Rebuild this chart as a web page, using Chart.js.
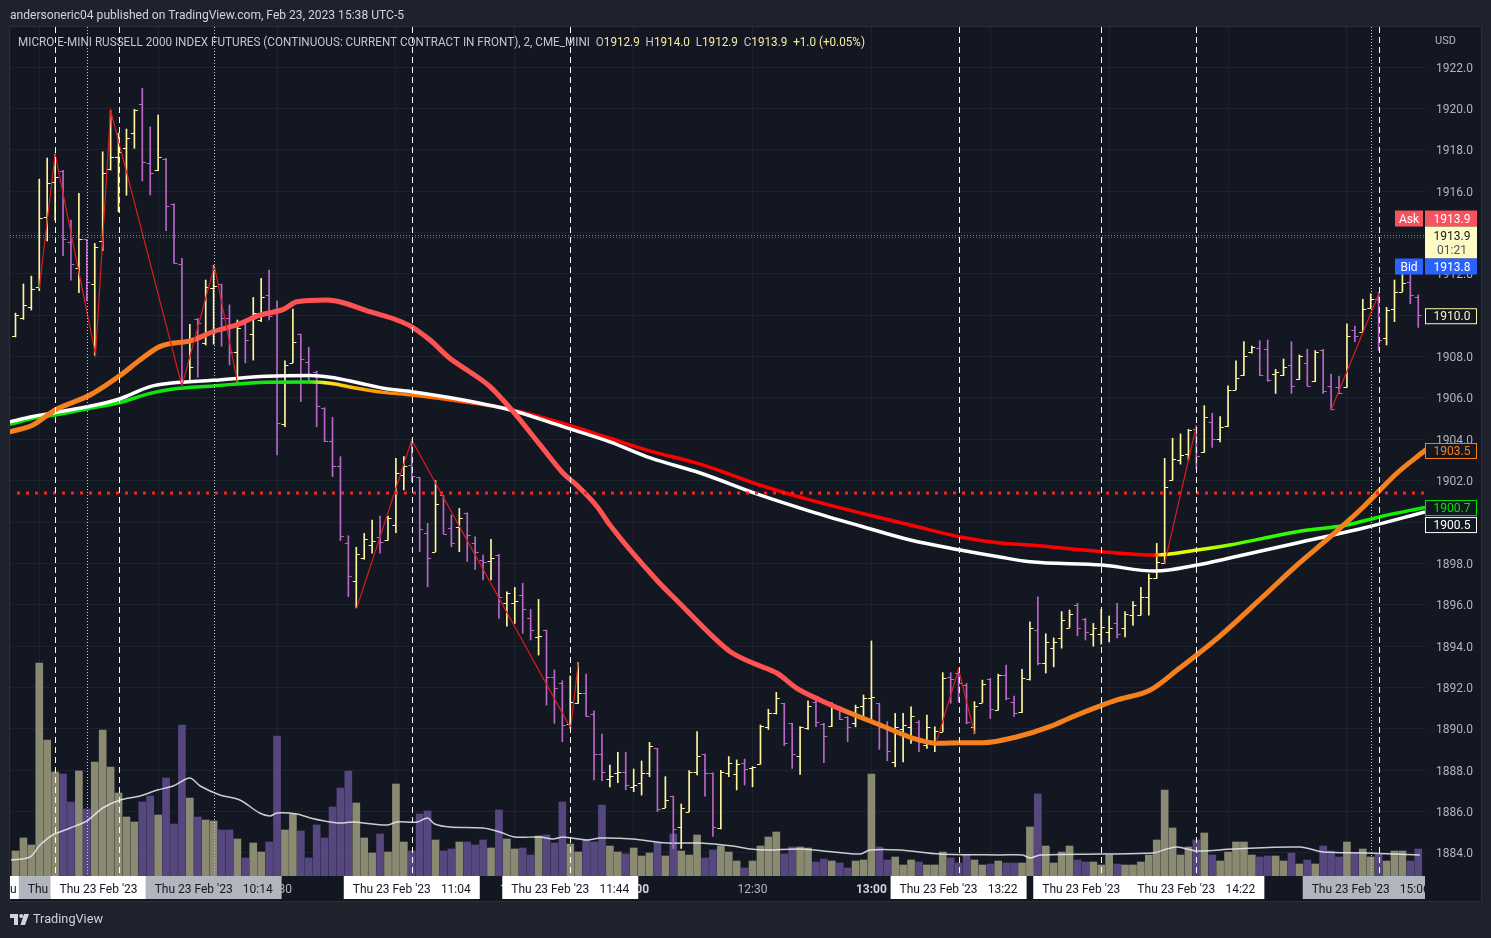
<!DOCTYPE html>
<html>
<head>
<meta charset="utf-8">
<title>MICRO E-MINI RUSSELL 2000 - 2m</title>
<script src="https://cdn.jsdelivr.net/npm/chart.js@4.4.1/dist/chart.umd.min.js"></script>
<style>
html,body{margin:0;padding:0;background:#1e222d;overflow:hidden;}
canvas{display:block;}
</style>
</head>
<body>
<canvas id="chart" width="1491" height="938"></canvas>
<script>
// ---------------- DATA ----------------
// bar index i -> 2-minute bars, i = 93 is 12:30
const opens = [
1909.0,1909.86,1910.38,1911.35,1914.76,1916.46,1916.98,1913.55,1912.27,1913.67,
1911.51,1913.59,1917.05,1917.67,1918.07,1918.79,1920.2,1917.34,1917.02,1917.55,
1915.38,1912.5,1906.8,1909.8,1908.64,1911.3,1911.5,1909.85,1908.2,1909.56,
1909.1,1909.77,1910.97,1910.28,1904.72,1907.7,1909.09,1907.75,1907.27,1905.5,
1903.9,1902.7,1898.97,1897.17,1898.25,1898.9,1899.3,1899.13,1899.86,1902.27,
1902.76,1902.16,1899.45,1898.57,1901.3,1899.7,1899.78,1900.42,1898.97,1898.17,
1898.1,1898.4,1896.1,1896.1,1896.47,1895.34,1894.46,1894.78,1892.49,1892.2,
1890.26,1891.27,1891.75,1890.7,1888.78,1887.6,1887.85,1887.9,1887.2,1887.4,
1887.85,1889.06,1886.19,1886.75,1885.24,1886.0,1887.93,1888.78,1887.88,1885.2,
1887.88,1887.8,1888.33,1888.09,1888.3,1890.07,1890.75,1891.24,1890.27,1888.69,
1890.03,1891.28,1890.24,1890.16,1891.0,1890.56,1890.27,1891.1,1891.47,1891.24,
1890.19,1888.4,1890.0,1890.11,1890.35,1889.2,1889.3,1889.87,1892.5,1892.7,
1892.12,1890.1,1891.27,1892.41,1890.91,1892.6,1891.3,1890.8,1892.4,1894.78,
1893.2,1893.9,1894.4,1894.9,1896.0,1895.3,1894.6,1894.6,1894.7,1895.1,
1894.86,1895.5,1895.5,1896.4,1897.28,1898.0,1902.03,1903.0,1903.3,1904.5,
1903.37,1904.85,1904.0,1904.64,1906.4,1907.1,1908.2,1908.4,1908.35,1907.16,
1907.1,1907.6,1906.9,1907.67,1906.84,1908.3,1906.58,1906.55,1906.55,1909.3,
1909.2,1910.33,1910.8,1908.9,1910.3,1911.14,1911.6,1910.9];
const highs = [
1910.1,1911.51,1911.89,1916.58,1917.6,1917.79,1917.0,1914.6,1915.89,1913.67,
1913.47,1917.9,1919.89,1918.8,1919.0,1919.95,1920.97,1919.11,1919.68,1917.58,
1915.38,1912.75,1909.56,1909.85,1911.7,1912.4,1911.5,1910.5,1909.77,1909.6,
1910.86,1911.78,1912.18,1910.69,1907.79,1910.3,1909.09,1908.45,1907.3,1905.53,
1905.06,1903.16,1899.34,1898.78,1899.45,1900.1,1900.29,1900.29,1903.08,1903.16,
1903.97,1902.16,1899.94,1902.0,1901.3,1900.34,1900.66,1900.45,1899.29,1898.4,
1899.16,1898.44,1896.63,1896.84,1897.04,1895.78,1896.26,1894.78,1892.85,1892.33,
1892.56,1893.2,1892.65,1890.87,1889.75,1888.25,1888.87,1888.87,1888.06,1888.45,
1889.35,1889.06,1887.69,1886.75,1886.37,1887.98,1889.87,1888.78,1887.88,1888.0,
1888.66,1888.5,1888.54,1888.17,1890.19,1890.95,1891.77,1891.24,1890.27,1890.11,
1891.36,1891.47,1890.27,1891.27,1891.07,1890.59,1891.15,1891.64,1894.25,1891.24,
1890.35,1890.75,1890.75,1891.07,1890.4,1890.67,1890.1,1892.72,1892.72,1892.88,
1892.2,1891.32,1892.36,1892.44,1892.65,1893.09,1891.59,1892.88,1895.18,1896.39,
1894.6,1894.4,1895.67,1895.75,1896.07,1895.34,1895.1,1895.78,1895.46,1896.07,
1895.67,1896.15,1896.84,1897.49,1898.97,1903.08,1904.05,1904.26,1904.48,1904.66,
1905.63,1905.26,1905.1,1906.58,1907.8,1908.72,1908.51,1908.77,1908.8,1907.38,
1907.88,1908.72,1908.08,1908.35,1908.29,1908.35,1907.16,1907.06,1909.58,1909.48,
1910.77,1911.03,1911.1,1910.38,1911.7,1912.34,1912.0,1910.98];
const lows = [
1908.95,1909.8,1910.25,1911.19,1913.59,1914.6,1912.88,1911.7,1911.09,1910.7,
1908.07,1913.12,1917.02,1915.0,1915.8,1918.07,1916.49,1915.81,1916.99,1914.09,
1912.5,1906.6,1906.8,1907.0,1908.56,1908.6,1908.5,1907.6,1906.75,1907.7,
1907.83,1909.69,1909.77,1903.24,1904.61,1907.7,1905.82,1906.78,1904.61,1903.89,
1902.19,1899.1,1896.39,1895.85,1898.2,1898.5,1898.5,1899.13,1899.49,1901.55,
1901.95,1898.57,1896.87,1898.57,1899.42,1898.8,1898.57,1898.1,1897.71,1897.2,
1897.2,1895.34,1894.97,1895.1,1894.62,1894.3,1893.57,1891.15,1890.27,1889.38,
1890.03,1891.23,1890.6,1887.53,1887.5,1887.2,1887.4,1887.05,1886.96,1886.8,
1887.69,1886.0,1886.19,1884.22,1884.22,1886.0,1887.77,1886.75,1884.8,1885.16,
1887.69,1887.05,1887.29,1887.2,1888.3,1889.97,1890.72,1889.19,1888.09,1887.8,
1889.97,1890.11,1888.37,1890.11,1890.46,1889.38,1890.1,1890.43,1890.3,1889.01,
1888.46,1888.17,1888.4,1889.3,1888.9,1889.06,1888.9,1889.87,1891.24,1891.3,
1890.24,1889.78,1891.27,1890.5,1890.91,1891.4,1890.6,1890.78,1892.36,1893.09,
1892.7,1893.0,1893.9,1894.9,1894.5,1894.3,1894.0,1894.1,1894.2,1894.4,
1894.45,1895.0,1895.5,1895.5,1897.28,1898.0,1902.03,1902.8,1903.0,1902.6,
1903.37,1903.61,1903.88,1904.61,1906.4,1907.08,1908.16,1907.08,1906.8,1906.22,
1907.08,1906.22,1906.9,1906.58,1906.79,1906.22,1905.42,1906.2,1906.51,1908.72,
1909.2,1910.33,1908.3,1908.56,1909.69,1911.14,1910.55,1909.41];
const closes = [
1910.0,1910.48,1911.25,1914.71,1916.38,1916.7,1913.67,1912.48,1913.67,1911.6,
1913.3,1916.86,1917.67,1917.9,1918.58,1919.9,1917.39,1916.86,1917.67,1915.28,
1912.51,1906.8,1907.5,1909.6,1911.35,1911.4,1909.85,1908.24,1909.4,1908.8,
1910.09,1910.9,1909.96,1904.8,1907.58,1908.72,1907.87,1906.8,1905.63,1903.9,
1902.73,1899.34,1897.39,1898.44,1899.18,1899.1,1899.05,1900.18,1902.35,1902.71,
1902.23,1899.65,1898.24,1900.86,1899.42,1899.0,1900.18,1899.37,1898.57,1898.08,
1898.28,1896.36,1896.55,1896.2,1895.78,1894.78,1894.5,1892.52,1892.0,1890.19,
1891.32,1891.75,1890.62,1888.8,1887.93,1887.7,1887.9,1887.3,1887.3,1887.85,
1889.19,1886.13,1886.56,1885.16,1886.16,1887.93,1888.69,1887.85,1885.24,1887.93,
1888.37,1888.3,1888.04,1888.14,1890.14,1890.75,1891.47,1889.3,1888.78,1890.11,
1891.11,1890.35,1889.66,1891.04,1890.5,1890.1,1891.07,1891.47,1891.56,1890.11,
1888.95,1890.1,1890.2,1890.64,1889.35,1890.1,1889.9,1892.45,1892.4,1892.2,
1890.35,1891.1,1892.15,1890.96,1892.6,1891.48,1890.78,1892.44,1894.86,1893.17,
1894.2,1894.2,1895.26,1895.55,1894.86,1894.7,1894.9,1894.94,1894.86,1894.6,
1895.55,1896.0,1896.36,1897.28,1898.08,1901.68,1903.05,1903.24,1904.43,1903.2,
1905.1,1904.0,1904.58,1906.38,1906.95,1908.04,1908.45,1907.1,1906.85,1907.27,
1907.5,1906.58,1908.04,1906.58,1908.24,1906.35,1905.45,1906.22,1909.0,1909.0,
1910.28,1910.77,1908.8,1910.25,1911.14,1911.54,1911.0,1910.0];
const volumes = [
125,190,155,1065,680,520,510,370,525,335,
570,730,545,415,295,270,370,400,305,490,
260,755,390,295,280,275,230,230,185,90,
165,120,170,700,230,310,225,90,255,190,
345,440,525,365,190,115,210,120,460,170,
125,310,325,180,125,135,170,170,155,180,
140,330,185,135,140,105,200,205,165,370,
160,120,180,170,355,150,120,110,140,100,
115,170,100,210,125,105,205,90,130,150,
120,75,40,75,150,195,220,110,145,145,
140,70,85,75,65,40,75,80,510,145,
80,95,55,80,70,55,55,120,90,65,
105,80,55,60,75,65,65,65,245,410,
150,65,120,150,80,70,70,55,105,60,
55,55,70,105,180,430,240,105,145,180,
215,105,75,120,170,170,105,95,100,100,
75,115,60,80,60,150,125,95,170,115,
135,95,110,75,125,125,75,135];

// moving averages read at sampled bar positions
const whiteIdx = [-0.7,2.2,5,9.4,13.1,17,19.7,24.9,31.7,37.2,39.7,43.1,46.4,50,56.5,62.8,69.1,75,80.1,86.4,93.9,100.2,106.6,112.9,119.2,124.2,128,137.1,143.8,149.1,153.2,161.7,170.1,177.85];
const whiteVal = [1904.85,1905.1,1905.3,1905.6,1905.95,1906.55,1906.72,1906.85,1907.05,1907.08,1907.0,1906.75,1906.47,1906.3,1905.9,1905.38,1904.61,1903.88,1903.1,1902.37,1901.31,1900.53,1899.81,1899.13,1898.65,1898.31,1898.08,1897.92,1897.63,1897.92,1898.26,1898.99,1899.71,1900.49];
const trendIdx = [-0.7,2.2,5,9.4,13.1,17,19.7,24.9,31.7,37.2,39.7,43.1,46.4,50,56.5,62.8,69.1,75,80.1,86.4,93.9,100.2,106.6,112.9,119.2,124.2,128,137.1,143.8,149.1,153.2,157.4,161.7,168,172.2,177.85];
const trendVal = [1904.72,1905.02,1905.18,1905.5,1905.77,1906.22,1906.42,1906.58,1906.76,1906.77,1906.71,1906.47,1906.27,1906.14,1905.82,1905.42,1904.77,1904.05,1903.43,1902.8,1901.79,1901.07,1900.44,1899.86,1899.28,1898.99,1898.89,1898.57,1898.41,1898.65,1898.89,1899.21,1899.53,1899.86,1900.26,1900.71];
const fastIdx = [-0.6,2.2,5,9.4,13.1,15.7,18.2,22.4,24.9,27.9,30.8,33.8,35.5,39.3,40.9,44.7,48.1,50,52.3,54.8,57.3,59.9,62.8,66.2,69.1,70.8,73.4,75,80.9,83.8,88,90.2,93.1,96.1,98.6,101.5,104.9,109.1,113.3,116.3,119.2,122.1,126.4,130.5,133.4,136.8,139,143.2,146.9,151.4,157.4,161.7,165.9,170.1,174.3,177.85];
const fastVal = [1904.37,1904.69,1905.42,1906.14,1907.06,1907.83,1908.48,1908.8,1909.2,1909.53,1910.0,1910.28,1910.65,1910.74,1910.65,1910.17,1909.77,1909.44,1908.8,1907.92,1907.27,1906.54,1905.34,1903.73,1902.36,1901.79,1900.74,1899.86,1897.2,1896.07,1894.46,1893.73,1893.17,1892.69,1891.96,1891.4,1890.83,1890.19,1889.54,1889.3,1889.33,1889.33,1889.62,1890.11,1890.59,1891.1,1891.4,1891.88,1892.94,1894.3,1896.39,1897.92,1899.29,1900.74,1902.36,1903.46];
const volMaIdx = [-0.57,1.83,3.1,4.7,6.9,9.0,11.0,13.2,15.7,17.9,19.9,22.0,23.3,25.8,28.3,30.8,32.1,33.0,35.5,37.2,39.0,40.9,42.6,45.1,47.0,48.1,50.7,52.0,52.9,54.8,59.0,61.1,63.0,66.2,67.8,69.1,72.1,73.8,77.9,82.2,86.4,90.5,92.7,94.8,99.0,103.2,106.6,107.8,111.6,116.6,124.2,127.1,128.0,129.3,136.8,143.5,145.3,146.6,149.1,153.6,162.1,165.0,170.5,177.2];
const volMaVal = [80,95,155,205,240,275,340,380,400,430,450,490,450,405,380,315,300,315,310,290,275,265,270,260,255,270,270,290,260,245,240,220,195,195,185,195,180,190,185,165,165,150,135,130,135,120,110,130,130,110,105,105,90,105,110,115,135,145,125,135,145,120,115,105];

// zigzag pivots (null = break)
const zzIdx = [3,5,10.1,12,21,25.1,28,null,43.05,50,70.05,71,null,116.2,119,121,null,145,149,null,166,172.05];
const zzVal = [1911.3,1917.79,1908.08,1919.89,1906.58,1912.39,1906.77,null,1895.84,1903.97,1890.04,1893.18,null,1889.37,1892.88,1889.79,null,1898.0,1904.66,null,1905.42,1911.06];

// levels and marks
const askPrice = 1913.9, bidPrice = 1913.8, levelPrice = 1901.4;
const priceTicks = [1884,1886,1888,1890,1892,1894,1896,1898,1900,1902,1904,1906,1908,1910,1912,1914,1916,1918,1920,1922];
const gridIdx = [3,18,33,48,63,78,93,108,123,138,153,168];
const timeTickText = ['09:30','10:00','10:30','11:00','11:30','12:00','12:30','13:00','13:30','14:00','14:30','15:00'];
const dashIdx = [5,13,50,70,119,137,149,172];
const dotIdx = [9,25,171];
const markIdx = [5,9,13,25,50,70,119,137,149,172,171];
const markTime = ['09:34','09:42','09:50','10:14','11:04','11:44','13:22','13:58','14:22','15:08','15:06'];
const markDate = "Thu 23 Feb '23";
const legendName = 'MICRO E-MINI RUSSELL 2000 INDEX FUTURES (CONTINUOUS: CURRENT CONTRACT IN FRONT), 2, CME_MINI';
const legendOHLC = ['1912.9','1914.0','1912.9','1913.9','+1.0 (+0.05%)'];
const countdown = '01:21';

// ---------------- STYLE ----------------
const FONT = 'Roboto, "Liberation Sans", "DejaVu Sans", sans-serif';
const BG_OUT = '#1e222d', BG_PANE = '#131722', GRID = '#1e222e', AXIS_TXT = '#b2b5be';
const UP = '#fff59d', DOWN = '#ba68c8', VOL_UP = '#8a8972', VOL_DOWN = '#56487f';
const AXIS_W = 56, TIME_H = 25;
const X_MIN = -0.694, X_MAX = 177.85, Y_MIN = 1882.888, Y_MAX = 1923.934, VOL_MAX = 4245;
const fastStops = [[-1,'#f5801e'],[20,'#f5801e'],[25,'#ff5252'],[103.5,'#ff5252'],[105.5,'#f5801e'],[178,'#f5801e']];
const trendStops = [[-1,'#00e600'],[37,'#19e619'],[39,'#ffee22'],[43,'#ffb000'],[47,'#ff8c00'],[56,'#ff5a00'],[62,'#ff0000'],[143.6,'#ff0000'],[144.6,'#f8f800'],[150,'#d8ff00'],[156,'#3cff00'],[178,'#00f000']];

const N = opens.length;
const isUp = i => closes[i] >= opens[i];
const pts = (xa, ya) => xa.map((x, k) => ({x, y: ya[k]}));
const zzData = [];
zzIdx.forEach((x, k) => {
  if (x === null) zzData.push({x: zzIdx[k - 1] + 0.5, y: null});
  else zzData.push({x, y: zzVal[k]});
});

function gradFor(chart, stops) {
  const a = chart.chartArea;
  if (!a) return stops[0][1];
  const g = chart.ctx.createLinearGradient(a.left, 0, a.right, 0);
  const xs = chart.scales.x;
  stops.forEach(([v, col]) => {
    let f = (xs.getPixelForValue(v) - a.left) / (a.right - a.left);
    g.addColorStop(Math.min(1, Math.max(0, f)), col);
  });
  return g;
}

function fitParts(c, parts, x, y, width, font) {
  c.save();
  c.font = font; c.textBaseline = 'middle'; c.textAlign = 'left';
  const total = parts.reduce((s, p) => s + c.measureText(p[0]).width, 0);
  c.translate(x, y); c.scale(width / total, 1);
  let cx = 0;
  parts.forEach(([t, col]) => { c.fillStyle = col; c.fillText(t, cx, 0); cx += c.measureText(t).width; });
  c.restore();
}

function valueBox(c, x, yc, text, fill, border, color) {
  c.fillStyle = fill; c.fillRect(x, yc - 8, 52, 16);
  if (border) { c.strokeStyle = border; c.lineWidth = 1; c.strokeRect(x + 0.5, yc - 7.5, 51, 15); }
  c.fillStyle = color; c.font = '12px ' + FONT; c.textAlign = 'center'; c.textBaseline = 'middle';
  c.fillText(text, x + 27, yc + 1);
}

const tvPlugin = {
  id: 'tv',
  beforeDraw(chart) {
    const c = chart.ctx, a = chart.chartArea;
    c.save();
    c.fillStyle = BG_OUT; c.fillRect(0, 0, chart.width, chart.height);
    c.fillStyle = BG_PANE; c.fillRect(a.left, a.top, a.right - a.left + AXIS_W, a.bottom - a.top + TIME_H);
    c.restore();
  },
  afterDatasetDraw(chart, args) {
    if (chart.data.datasets[args.index].label !== 'hl') return;
    const c = chart.ctx, a = chart.chartArea, xs = chart.scales.x, ys = chart.scales.y;
    c.save();
    c.beginPath(); c.rect(a.left, a.top, a.right - a.left, a.bottom - a.top); c.clip();
    c.lineWidth = 1;
    for (let i = 0; i < N; i++) {
      const x = xs.getPixelForValue(i);
      const yo = Math.round(ys.getPixelForValue(opens[i])) + 0.5;
      const yc = Math.round(ys.getPixelForValue(closes[i])) + 0.5;
      c.strokeStyle = isUp(i) ? UP : DOWN;
      c.beginPath();
      c.moveTo(x - 3.5, yo); c.lineTo(x, yo);
      c.moveTo(x, yc); c.lineTo(x + 3.5, yc);
      c.stroke();
    }
    c.restore();
  },
  afterDatasetsDraw(chart) {
    const c = chart.ctx, a = chart.chartArea, xs = chart.scales.x, ys = chart.scales.y;
    c.save();
    c.beginPath(); c.rect(a.left, a.top, a.right - a.left, a.bottom - a.top); c.clip();
    // ask / bid lines
    c.lineWidth = 1; c.setLineDash([1, 2]);
    let y = Math.round(ys.getPixelForValue(askPrice)) + 0.5;
    c.strokeStyle = '#f7525f'; c.beginPath(); c.moveTo(a.left, y); c.lineTo(a.right, y); c.stroke();
    y = Math.round(ys.getPixelForValue(bidPrice)) + 0.5;
    c.strokeStyle = '#2962ff'; c.beginPath(); c.moveTo(a.left, y); c.lineTo(a.right, y); c.stroke();
    // red dotted level
    c.lineWidth = 3; c.setLineDash([3, 6]);
    y = ys.getPixelForValue(levelPrice);
    c.strokeStyle = '#ff1e1e'; c.beginPath(); c.moveTo(a.left + 7, y); c.lineTo(a.right, y); c.stroke();
    // vertical lines
    c.lineWidth = 1;
    c.setLineDash([6, 4]); c.strokeStyle = '#ffffff';
    dashIdx.forEach(i => { const x = Math.round(xs.getPixelForValue(i)) + 0.5; c.beginPath(); c.moveTo(x, a.top); c.lineTo(x, a.bottom); c.stroke(); });
    c.setLineDash([1, 2]); c.strokeStyle = '#c9ccd4';
    dotIdx.forEach(i => { const x = Math.round(xs.getPixelForValue(i)) + 0.5; c.beginPath(); c.moveTo(x, a.top); c.lineTo(x, a.bottom); c.stroke(); });
    c.restore();
  },
  afterDraw(chart) {
    const c = chart.ctx, a = chart.chartArea, xs = chart.scales.x, ys = chart.scales.y;
    // ---- time axis ----
    c.save();
    c.beginPath(); c.rect(a.left, a.bottom, a.right - a.left, TIME_H); c.clip();
    const ty = a.bottom + 14;
    c.textBaseline = 'middle'; c.textAlign = 'center';
    gridIdx.forEach((i, k) => {
      const hour = timeTickText[k].endsWith(':00');
      c.font = (hour ? 'bold ' : '') + '12px ' + FONT;
      c.fillStyle = hour ? '#d1d4dc' : AXIS_TXT;
      c.fillText(timeTickText[k], xs.getPixelForValue(i), ty);
    });
    markIdx.forEach((i, k) => {
      const x = xs.getPixelForValue(i);
      const dotted = dotIdx.includes(i);
      c.fillStyle = dotted ? '#b2b5be' : '#ffffff';
      c.fillRect(x - 68, a.bottom, 136, 23);
      c.fillStyle = '#131722'; c.font = '12px ' + FONT;
      c.textAlign = 'left'; c.fillText(markDate, x - 59, ty);
      c.textAlign = 'right'; c.fillText(markTime[k], x + 59, ty);
    });
    c.restore();

    // ---- price axis overlays ----
    c.save();
    const R = a.right;
    c.fillStyle = AXIS_TXT; c.font = '11px ' + FONT; c.textAlign = 'left'; c.textBaseline = 'middle';
    c.fillText('USD', R + 10, a.top + 14.5);
    const yAsk = ys.getPixelForValue(askPrice);
    // Ask
    c.fillStyle = '#f7525f'; c.fillRect(R - 30, yAsk - 24, 28, 16);
    c.fillStyle = '#ffffff'; c.font = '12px ' + FONT; c.textAlign = 'center'; c.fillText('Ask', R - 16, yAsk - 15);
    valueBox(c, R, yAsk - 16, askPrice.toFixed(1), '#f7525f', null, '#ffffff');
    // countdown
    c.fillStyle = '#fff9c4'; c.fillRect(R, yAsk - 8, 52, 32);
    c.fillStyle = '#131722'; c.font = '12px ' + FONT; c.textAlign = 'center';
    c.fillText(askPrice.toFixed(1), R + 27, yAsk + 2);
    c.fillStyle = '#50535e'; c.fillText(countdown, R + 27, yAsk + 16);
    // Bid
    c.fillStyle = '#2962ff'; c.fillRect(R - 30, yAsk + 24, 28, 16);
    c.fillStyle = '#ffffff'; c.textAlign = 'center'; c.fillText('Bid', R - 16, yAsk + 33);
    valueBox(c, R, yAsk + 32, bidPrice.toFixed(1), '#2962ff', null, '#ffffff');
    // last close & MA values
    valueBox(c, R, ys.getPixelForValue(closes[N - 1]) + 1, closes[N - 1].toFixed(1), BG_PANE, UP, '#fdf3b8');
    valueBox(c, R, ys.getPixelForValue(fastVal[fastVal.length - 1]) + 0.5, fastVal[fastVal.length - 1].toFixed(1), BG_PANE, '#f5801e', '#f5801e');
    const yTrend = ys.getPixelForValue(trendVal[trendVal.length - 1]) + 0.7;
    valueBox(c, R, yTrend, trendVal[trendVal.length - 1].toFixed(1), BG_PANE, '#00e600', '#00e600');
    valueBox(c, R, Math.max(yTrend + 17, ys.getPixelForValue(whiteVal[whiteVal.length - 1])), whiteVal[whiteVal.length - 1].toFixed(1), BG_PANE, '#ffffff', '#ffffff');
    c.restore();

    // ---- frame ----
    c.save();
    c.strokeStyle = '#2a2e39'; c.lineWidth = 1;
    c.strokeRect(a.left - 0.5, a.top - 0.5, a.right - a.left + AXIS_W + 1, a.bottom - a.top + TIME_H + 1);
    c.restore();

    // ---- header / legend / footer ----
    fitParts(c, [['andersoneric04 published on TradingView.com, Feb 23, 2023 15:38 UTC-5', '#d1d4dc']], 10, 15.5, 394, '13px ' + FONT);
    const G = '#c3c6ce', Y = '#f6eba3';
    fitParts(c, [[legendName + '  ', G], ['O', G], [legendOHLC[0], Y], ['  H', G], [legendOHLC[1], Y], ['  L', G], [legendOHLC[2], Y], ['  C', G], [legendOHLC[3], Y], ['  ' + legendOHLC[4], Y]], 18, 42.5, 847, '12px ' + FONT);
    c.save();
    c.fillStyle = '#d1d4dc';
    const fy = chart.height - 18;
    c.fillRect(10, fy - 6, 8, 4); c.fillRect(14, fy - 6, 4, 11);
    c.beginPath(); c.arc(21.2, fy - 4, 2, 0, Math.PI * 2); c.fill();
    c.beginPath(); c.moveTo(24, fy - 6); c.lineTo(29, fy - 6); c.lineTo(25, fy + 5); c.lineTo(20.5, fy + 5); c.closePath(); c.fill();
    c.restore();
    fitParts(c, [['TradingView', '#d1d4dc']], 33, fy, 70, '13px ' + FONT);
  }
};

const hlData = opens.map((_, i) => ({x: i, y: [lows[i], highs[i]]}));
const volData = volumes.map((v, i) => ({x: i, y: v}));

new Chart(document.getElementById('chart'), {
  type: 'bar',
  data: {
    datasets: [
      {type: 'line', label: 'zigzag', data: zzData, borderColor: '#d91c1c', borderWidth: 1.2, pointRadius: 0, spanGaps: false, tension: 0, order: 1, yAxisID: 'y'},
      {type: 'line', label: 'fast', data: pts(fastIdx, fastVal), borderColor: ctx => gradFor(ctx.chart, fastStops), borderWidth: 5, pointRadius: 0, cubicInterpolationMode: 'monotone', borderCapStyle: 'round', order: 2, yAxisID: 'y'},
      {type: 'line', label: 'slow', data: pts(whiteIdx, whiteVal), borderColor: '#ffffff', borderWidth: 3.5, pointRadius: 0, cubicInterpolationMode: 'monotone', order: 3, yAxisID: 'y'},
      {type: 'line', label: 'trend', data: pts(trendIdx, trendVal), borderColor: ctx => gradFor(ctx.chart, trendStops), borderWidth: 3.5, pointRadius: 0, cubicInterpolationMode: 'monotone', order: 4, yAxisID: 'y'},
      {type: 'bar', label: 'hl', data: hlData, backgroundColor: opens.map((_, i) => isUp(i) ? UP : DOWN), barThickness: 1, grouped: false, order: 6, yAxisID: 'y'},
      {type: 'line', label: 'volma', data: pts(volMaIdx, volMaVal), borderColor: 'rgba(235,235,240,0.85)', borderWidth: 1.5, pointRadius: 0, tension: 0.3, order: 7, yAxisID: 'yv'},
      {type: 'bar', label: 'vol', data: volData, backgroundColor: opens.map((_, i) => isUp(i) ? VOL_UP : VOL_DOWN), barThickness: 7, grouped: false, order: 8, yAxisID: 'yv'}
    ]
  },
  options: {
    responsive: false,
    animation: false,
    events: [],
    layout: {padding: {left: 10, right: 10, top: 27, bottom: 62}},
    plugins: {legend: {display: false}, tooltip: {enabled: false}},
    scales: {
      x: {
        type: 'linear', min: X_MIN, max: X_MAX, offset: false,
        grid: {color: GRID, drawTicks: false, offset: false},
        border: {display: false},
        ticks: {display: false},
        afterBuildTicks: s => { s.ticks = gridIdx.map(v => ({value: v})); },
        afterFit: s => { s.height = 0; }
      },
      y: {
        type: 'linear', position: 'right', min: Y_MIN, max: Y_MAX,
        grid: {color: GRID, drawTicks: false},
        border: {display: false},
        ticks: {color: AXIS_TXT, font: {size: 12, family: FONT}, padding: 11, labelOffset: 1.5, callback: v => Number(v).toFixed(1)},
        afterBuildTicks: s => { s.ticks = priceTicks.map(v => ({value: v})); },
        afterFit: s => { s.width = AXIS_W; }
      },
      yv: {type: 'linear', display: false, min: 0, max: VOL_MAX}
    }
  },
  plugins: [tvPlugin]
});
</script>
</body>
</html>
